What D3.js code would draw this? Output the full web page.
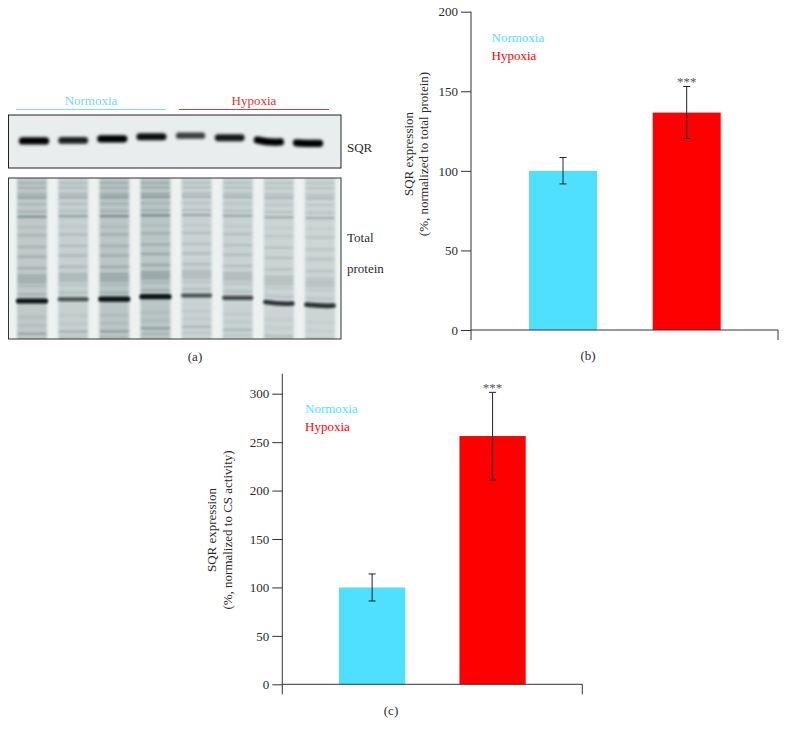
<!DOCTYPE html>
<html>
<head>
<meta charset="utf-8">
<script src="https://cdn.jsdelivr.net/npm/d3@7"></script>
<style>
  body { margin: 0; background: #fff; }
  text { font-family: "Liberation Serif", serif; fill: #2b2b2b; }
</style>
</head>
<body>
<div id="chart-area"></div>
<script>
const groups = ['Normoxia', 'Hypoxia'];

// panel b
const valuesB = [100, 136.6];
const errLowB = [91.8, 120.4];
const errHighB = [108.4, 153];
const ticksB = [0, 50, 100, 150, 200];

// panel c
const valuesC = [100, 256.3];
const errLowC = [86, 210.9];
const errHighC = [113.9, 301.4];
const ticksC = [0, 50, 100, 150, 200, 250, 300];

// panel a, one entry per lane
const lanes = [1, 2, 3, 4, 5, 6, 7, 8];
const sqrPos = [49, 48, 45, 41, 39, 43, 49, 53];
const sqrDark = [1, 0.88, 1, 0.95, 0.75, 0.9, 1, 1];
const sqrSag = [0, 0, 0, 0, 0, 0, 2, 0.5];
const laneLoad = [0.85, 0.6, 0.95, 1, 0.5, 0.5, 0.42, 0.38];
const mainPos = [76.4, 75.3, 75.2, 73.7, 73, 74.5, 77.5, 79];
const mainDark = [1, 0.68, 1, 1, 0.68, 0.72, 0.82, 0.85];
const mainSag = [0, 0, 0, 0, 0, 0, 1.5, 1];

// minor gel bands, migration in % of the gel height
const gelBandPos = [3, 6, 10, 12, 16, 20.5, 23.6, 30, 35, 42, 48, 55, 59.5, 61.5, 63.5, 66, 71, 85, 90, 95, 98.7];
const gelBandDark = [0.3, 0.3, 0.35, 0.5, 0.25, 0.3, 0.7, 0.15, 0.3, 0.3, 0.35, 0.35, 0.4, 0.45, 0.4, 0.2, 0.3, 0.15, 0.15, 0.45, 0.2];

const blue = '#4fdfff', red = '#ff0000';
const cyanLine = '#82dcf0', redLine = '#e23b3b';

const svg = d3.select('#chart-area')
    .append('svg')
    .attr('width', 787)
    .attr('height', 738)
    .style('display', 'block');

const defs = svg.append('defs');
[['blurBlot', 1.5], ['blurBand', 1.2], ['blurMain', 1.1], ['blurLane', 1.8]].forEach(([id, s]) => {
    defs.append('filter').attr('id', id)
        .attr('filterUnits', 'userSpaceOnUse')
        .attr('x', 0).attr('y', 0).attr('width', 787).attr('height', 738)
        .append('feGaussianBlur').attr('stdDeviation', s);
});
defs.append('clipPath').attr('id', 'clipBlot').append('rect')
    .attr('x', 8.5).attr('y', 115).attr('width', 332.5).attr('height', 53);
defs.append('clipPath').attr('id', 'clipGel').append('rect')
    .attr('x', 8.5).attr('y', 178).attr('width', 332.5).attr('height', 161);

function label(x, y, txt, size, color, anchor) {
    return svg.append('text')
        .attr('x', x).attr('y', y)
        .attr('font-size', size)
        .attr('text-anchor', anchor || 'start')
        .style('fill', color || '#2b2b2b')
        .text(txt);
}

function bandPath(x, w, y, sag) {
    return 'M' + (x - w / 2) + ',' + (y - sag / 2) +
        'Q' + x + ',' + (y + sag) + ' ' + (x + w / 2) + ',' + (y + sag / 2);
}

// ---------- panel a ----------
label(91, 105, groups[0], 13, '#6fd8ee', 'middle');
label(254, 105, groups[1], 13, '#e0312f', 'middle');
[[16, 166, cyanLine], [179, 329, redLine]].forEach(([x1, x2, c]) => {
    svg.append('line').attr('x1', x1).attr('x2', x2)
        .attr('y1', 109.5).attr('y2', 109.5)
        .attr('stroke', c).attr('stroke-width', 1);
});

// SQR blot
const xBlot = d3.scalePoint().domain(lanes).range([34, 308]);
const yBlot = d3.scaleLinear().domain([0, 100]).range([115, 168]);

svg.append('rect').attr('x', 8.5).attr('y', 115).attr('width', 332.5).attr('height', 53)
    .attr('fill', '#e9eded');
svg.append('g')
    .attr('clip-path', 'url(#clipBlot)')
    .append('g')
    .attr('filter', 'url(#blurBlot)')
    .selectAll('path')
    .data(lanes)
    .join('path')
    .attr('d', (d, i) => bandPath(xBlot(d), 23, yBlot(sqrPos[i]), sqrSag[i]))
    .attr('fill', 'none')
    .attr('stroke', '#020303')
    .attr('stroke-linecap', 'round')
    .attr('stroke-opacity', (d, i) => sqrDark[i])
    .attr('stroke-width', (d, i) => 3.5 + 3.8 * sqrDark[i]);
svg.append('rect').attr('x', 8.5).attr('y', 115).attr('width', 332.5).attr('height', 53)
    .attr('fill', 'none').attr('stroke', '#222').attr('stroke-width', 1);

label(347, 151.5, 'SQR', 13);

// total protein gel
const xGel = d3.scalePoint().domain(lanes).range([32, 320]);
const yGel = d3.scaleLinear().domain([0, 100]).range([178, 339]);
// lower bands drift along with the main band of their lane
const drift = (p, i) => p + (mainPos[i] - 75) * (p / 75);

svg.append('rect').attr('x', 8.5).attr('y', 178).attr('width', 332.5).attr('height', 161)
    .attr('fill', '#edf2f1');
const gel = svg.append('g').attr('clip-path', 'url(#clipGel)');

gel.append('g')
    .attr('filter', 'url(#blurLane)')
    .selectAll('rect')
    .data(lanes)
    .join('rect')
    .attr('x', d => xGel(d) - 15)
    .attr('y', 170)
    .attr('width', 30)
    .attr('height', 180)
    .attr('fill', '#93a5a5')
    .attr('fill-opacity', (d, i) => 0.25 + 0.33 * laneLoad[i]);

const minorBands = lanes.flatMap((lane, i) =>
    gelBandPos.map((p, j) => ({lane: lane, i: i, p: p, dark: gelBandDark[j]})));

gel.append('g')
    .attr('filter', 'url(#blurBand)')
    .selectAll('path')
    .data(minorBands)
    .join('path')
    .attr('d', d => bandPath(xGel(d.lane), 29, yGel(drift(d.p, d.i)), d.p > 70 ? mainSag[d.i] * 0.7 : 0))
    .attr('fill', 'none')
    .attr('stroke', '#46585a')
    .attr('stroke-width', 2.2)
    .attr('stroke-opacity', d => d.dark * (0.22 + 0.62 * laneLoad[d.i]));

gel.append('g')
    .attr('filter', 'url(#blurMain)')
    .selectAll('path')
    .data(lanes)
    .join('path')
    .attr('d', (d, i) => bandPath(xGel(d), 27, yGel(mainPos[i]), mainSag[i]))
    .attr('fill', 'none')
    .attr('stroke', '#0c1416')
    .attr('stroke-linecap', 'round')
    .attr('stroke-opacity', (d, i) => mainDark[i])
    .attr('stroke-width', (d, i) => 2 + 3.2 * mainDark[i]);

svg.append('rect').attr('x', 8.5).attr('y', 178).attr('width', 332.5).attr('height', 161)
    .attr('fill', 'none').attr('stroke', '#333').attr('stroke-width', 1);

label(347, 242, 'Total', 13);
label(347, 273, 'protein', 13);
label(195, 361, '(a)', 13, null, 'middle');

// ---------- bar panels ----------
function barPanel(o) {
    const y = d3.scaleLinear().domain(o.domain).range(o.yRange);
    const x = d3.scaleBand().domain(groups).range(o.xBars).paddingInner(o.inner).paddingOuter(0);
    const colors = d3.scaleOrdinal().domain(groups).range([blue, red]);
    const g = svg.append('g');

    g.selectAll('rect.bar')
        .data(groups)
        .join('rect')
        .attr('class', 'bar')
        .attr('x', d => x(d))
        .attr('y', (d, i) => y(o.values[i]))
        .attr('width', x.bandwidth())
        .attr('height', (d, i) => y(0) - y(o.values[i]))
        .attr('fill', d => colors(d));

    const axis = g.append('g')
        .attr('transform', 'translate(' + o.xAxis + ',0)')
        .call(d3.axisLeft(y).tickValues(o.ticks).tickSize(10).tickSizeOuter(0).tickPadding(3));
    axis.select('.domain').remove();
    axis.selectAll('line').attr('stroke', '#333');
    axis.selectAll('text').attr('font-size', 13).attr('font-family', '"Liberation Serif", serif');

    // axis lines run a little past zero
    const lines = [
        [o.xAxis, o.xAxis, y.range()[1] - o.over, y(0) + 10],
        [o.xAxis, o.xEnd, y(0), y(0)],
        [o.xEnd, o.xEnd, y(0), y(0) + 10]
    ];
    g.selectAll('line.frame')
        .data(lines)
        .join('line')
        .attr('class', 'frame')
        .attr('x1', d => d[0]).attr('x2', d => d[1])
        .attr('y1', d => d[2]).attr('y2', d => d[3])
        .attr('stroke', '#333').attr('stroke-width', 1);

    // error bars
    const cx = d => x(d) + x.bandwidth() / 2;
    groups.forEach((d, i) => {
        const segs = [
            [cx(d), cx(d), y(o.low[i]), y(o.high[i])],
            [cx(d) - 3.5, cx(d) + 3.5, y(o.low[i]), y(o.low[i])],
            [cx(d) - 3.5, cx(d) + 3.5, y(o.high[i]), y(o.high[i])]
        ];
        g.selectAll('line.err' + i)
            .data(segs)
            .join('line')
            .attr('class', 'err' + i)
            .attr('x1', s => s[0]).attr('x2', s => s[1])
            .attr('y1', s => s[2]).attr('y2', s => s[3])
            .attr('stroke', '#222').attr('stroke-width', 1);
    });

    label(cx(groups[1]), y(o.high[1]) - 0.5, '***', 13, '#555', 'middle');

    label(o.legendX, o.legendY, groups[0], 13, blue);
    label(o.legendX, o.legendY + 18.7, groups[1], 13, red);

    o.yLabels.forEach((t, i) => {
        g.append('text')
            .attr('transform', 'translate(' + (o.yLabelX + i * 15.5) + ',' + o.yLabelY + ') rotate(-90)')
            .attr('text-anchor', 'middle')
            .attr('font-size', 13)
            .text(t);
    });

    label(o.capX, o.capY, o.caption, 13, null, 'middle');
}

barPanel({
    domain: [0, 200], yRange: [330, 11.7], over: 0,
    xBars: [529, 720.7], inner: 0.45, xAxis: 471, xEnd: 778,
    values: valuesB, low: errLowB, high: errHighB, ticks: ticksB,
    legendX: 491.5, legendY: 41.5,
    yLabels: ['SQR expression', '(%, normalized to total protein)'],
    yLabelX: 412.5, yLabelY: 154,
    caption: '(b)', capX: 588, capY: 360
});

barPanel({
    domain: [0, 300], yRange: [684.3, 393.7], over: 20,
    xBars: [339, 525.7], inner: 0.45, xAxis: 282.3, xEnd: 582.3,
    values: valuesC, low: errLowC, high: errHighC, ticks: ticksC,
    legendX: 305, legendY: 412.5,
    yLabels: ['SQR expression', '(%, normalized to CS activity)'],
    yLabelX: 216, yLabelY: 530,
    caption: '(c)', capX: 391, capY: 715
});
</script>
</body>
</html>
